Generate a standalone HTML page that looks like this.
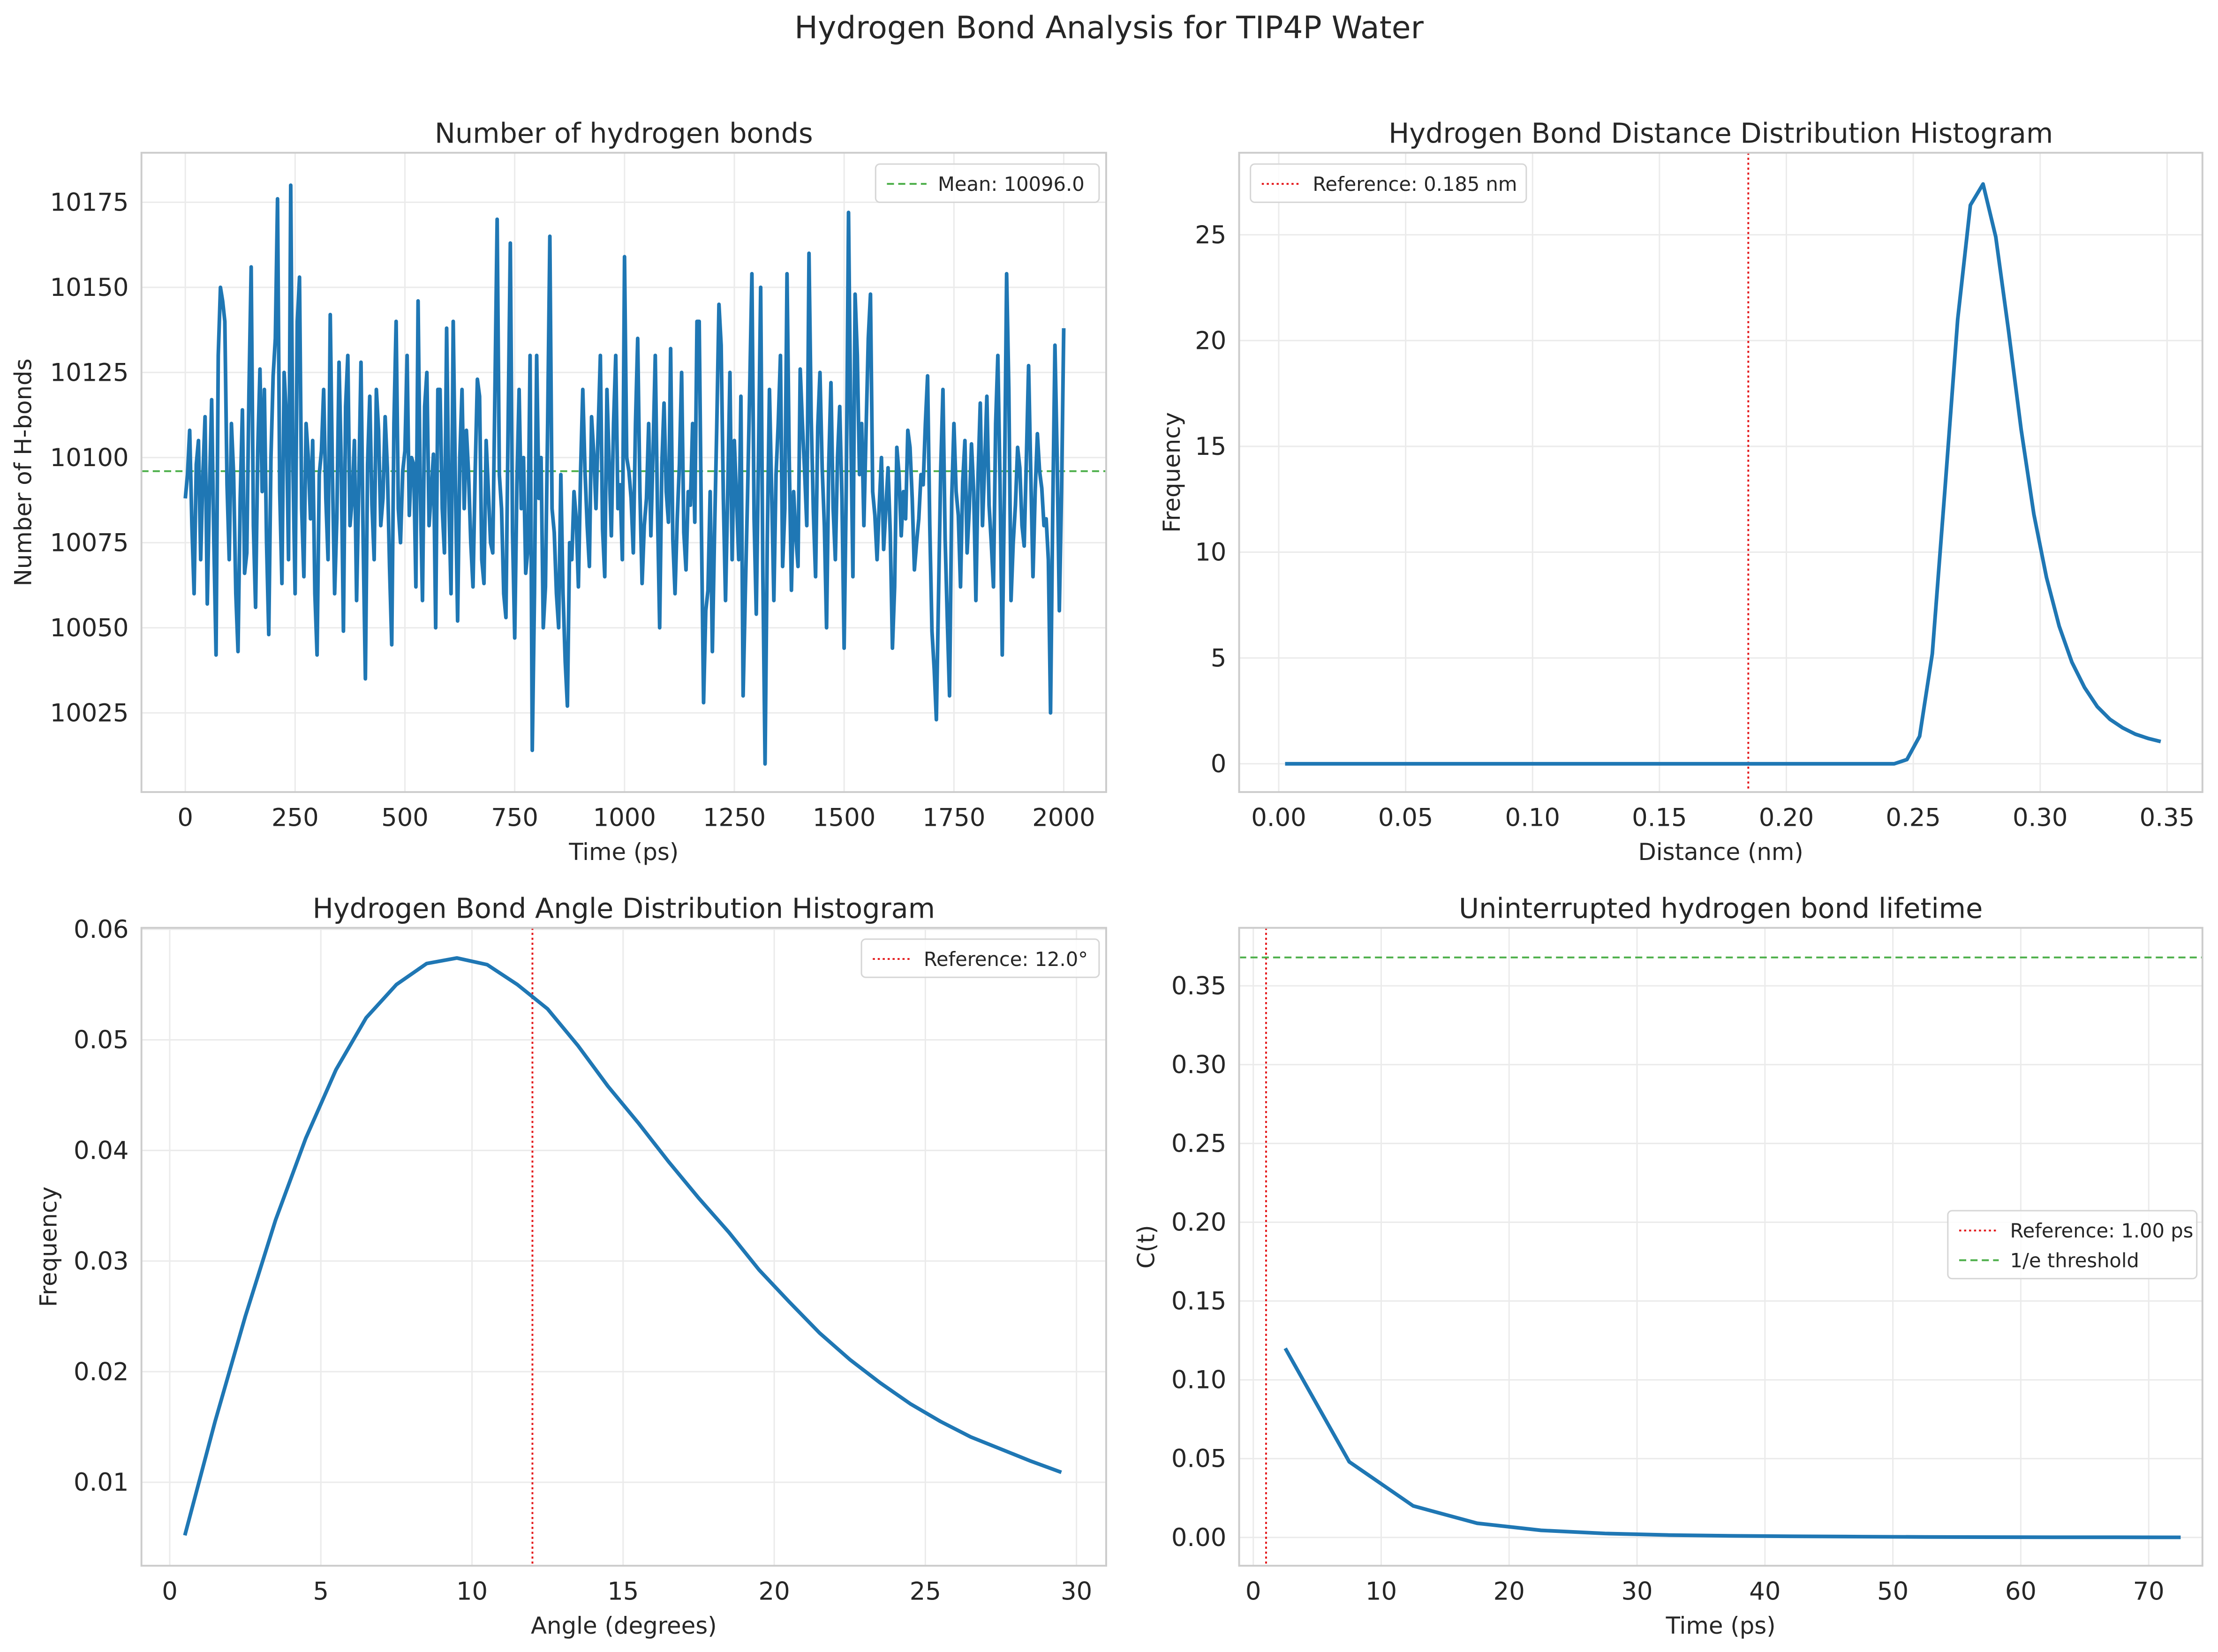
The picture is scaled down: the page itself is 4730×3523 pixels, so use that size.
<!DOCTYPE html>
<html><head><meta charset="utf-8">
<style>
html,body{margin:0;padding:0;background:#fff;}
svg{display:block;}
text{font-family:"DejaVu Sans","Liberation Sans",sans-serif;fill:#262626;}
</style></head>
<body>
<svg id="fig" width="4730" height="3523" viewBox="0 0 1568 1168" preserveAspectRatio="none" xmlns="http://www.w3.org/2000/svg">
<rect width="1568" height="1168" fill="#fff"/>
<text x="784" y="27" font-size="22" text-anchor="middle">Hydrogen Bond Analysis for TIP4P Water</text>
</svg>
<script>
// ---- Panel 1 data (time step 5 ps) ----
const hbCounts = [10088,10095,10108,10080,10060,10098,10105,10070,10095,10112,10057,10090,10117,10075,10042,10130,10150,10146,10140,10092,10070,10110,10095,10060,10043,10088,10114,10066,10072,10120,10156,10080,10056,10102,10126,10090,10120,10075,10048,10100,10124,10135,10176,10090,10063,10125,10112,10070,10180,10098,10060,10140,10153,10085,10065,10110,10100,10082,10105,10060,10042,10095,10102,10120,10088,10070,10142,10095,10060,10082,10128,10098,10049,10115,10130,10080,10088,10105,10058,10092,10128,10075,10035,10098,10118,10086,10070,10120,10108,10080,10088,10112,10097,10068,10045,10110,10140,10085,10075,10096,10102,10130,10083,10100,10098,10062,10146,10090,10058,10115,10125,10080,10090,10101,10050,10120,10120,10085,10072,10138,10088,10060,10140,10092,10052,10100,10120,10085,10108,10095,10075,10062,10096,10123,10118,10070,10063,10105,10090,10075,10072,10120,10170,10095,10085,10060,10053,10110,10163,10078,10047,10092,10120,10085,10100,10066,10073,10130,10014,10060,10130,10088,10100,10050,10062,10110,10165,10085,10078,10060,10050,10095,10060,10040,10027,10075,10070,10090,10082,10062,10096,10120,10096,10080,10068,10112,10101,10085,10108,10130,10079,10065,10120,10098,10077,10110,10130,10085,10092,10070,10159,10100,10096,10088,10072,10110,10135,10090,10063,10080,10088,10110,10077,10102,10130,10085,10050,10098,10116,10090,10081,10132,10076,10060,10082,10098,10125,10078,10067,10090,10086,10110,10081,10140,10140,10080,10028,10055,10061,10090,10043,10078,10109,10145,10133,10088,10058,10090,10125,10070,10105,10088,10070,10118,10030,10060,10088,10120,10154,10082,10054,10100,10150,10065,10010,10075,10120,10090,10058,10095,10110,10130,10068,10085,10154,10100,10061,10090,10077,10068,10126,10110,10096,10080,10160,10112,10084,10065,10109,10125,10097,10080,10050,10098,10122,10085,10070,10100,10115,10088,10044,10092,10172,10110,10065,10148,10130,10095,10110,10080,10108,10135,10148,10090,10083,10070,10086,10100,10073,10085,10097,10078,10044,10062,10103,10095,10077,10090,10082,10108,10103,10088,10067,10075,10082,10095,10092,10110,10124,10080,10049,10038,10023,10060,10097,10120,10076,10052,10030,10088,10110,10090,10083,10062,10093,10105,10072,10085,10104,10090,10058,10095,10116,10080,10098,10118,10086,10075,10062,10110,10130,10092,10042,10090,10154,10120,10058,10075,10086,10103,10097,10080,10074,10100,10127,10095,10065,10090,10107,10096,10091,10080,10082,10070,10025,10085,10133,10100,10055,10090,10138];
const hbMean = 10096.0;
const p1XTicks = [0,250,500,750,1000,1250,1500,1750,2000];
const p1YTicks = [10025,10050,10075,10100,10125,10150,10175];
// ---- Panel 2 data ----
const distCenters = [];
for (let i=0;i<70;i++) distCenters.push(+(0.0025+0.005*i).toFixed(4));
const distFreq = [0,0,0,0,0,0,0,0,0,0,0,0,0,0,0,0,0,0,0,0,0,0,0,0,0,0,0,0,0,0,0,0,0,0,0,0,0,0,0,0,0,0,0,0,0,0,0,0,0,0.2,1.3,5.2,13,21,26.4,27.4,24.9,20.5,15.8,11.8,8.8,6.5,4.8,3.6,2.7,2.1,1.7,1.4,1.2,1.05];
const distRef = 0.185;
const p2XTicks = [0,0.05,0.10,0.15,0.20,0.25,0.30,0.35];
const p2YTicks = [0,5,10,15,20,25];
// ---- Panel 3 data ----
const angleCenters = [0.5,1.5,2.5,3.5,4.5,5.5,6.5,7.5,8.5,9.5,10.5,11.5,12.5,13.5,14.5,15.5,16.5,17.5,18.5,19.5,20.5,21.5,22.5,23.5,24.5,25.5,26.5,27.5,28.5,29.5];
const angleFreq = [0.0052,0.0155,0.0250,0.0337,0.0411,0.0473,0.0520,0.0550,0.0569,0.0574,0.0568,0.0550,0.0528,0.0495,0.0458,0.0425,0.0390,0.0357,0.0326,0.0292,0.0263,0.0235,0.0211,0.0190,0.0171,0.0155,0.0141,0.0130,0.0119,0.0109];
const angleRef = 12.0;
const p3XTicks = [0,5,10,15,20,25,30];
const p3YTicks = [0.01,0.02,0.03,0.04,0.05,0.06];
// ---- Panel 4 data ----
const lifeTimes = [2.5,7.5,12.5,17.5,22.5,27.5,32.5,37.5,42.5,47.5,52.5,57.5,62.5,67.5,72.5];
const lifeCt = [0.12,0.048,0.020,0.009,0.0045,0.0025,0.0015,0.001,0.0007,0.0005,0.0003,0.0002,0.0001,0.0001,0.00005];
const lifeRef = 1.0;
const lifeThresh = 0.368;
const p4XTicks = [0,10,20,30,40,50,60,70];
const p4YTicks = [0,0.05,0.10,0.15,0.20,0.25,0.30,0.35];

const NS="http://www.w3.org/2000/svg";
const fig=document.getElementById('fig');
function mk(tag,attrs,parent){const e=document.createElementNS(NS,tag);for(const k in attrs)e.setAttribute(k,attrs[k]);(parent||fig).appendChild(e);return e;}
function lin(d0,d1,r0,r1){return v=>r0+(v-d0)*(r1-r0)/(d1-d0);}

function panel(o){
  const g=mk('g',{});
  
  
  const {L,R,T,B}=o;
  o.xt.forEach(v=>{const gl=mk('line',{x1:o.x(v),x2:o.x(v),y1:T,y2:B,stroke:'#ebebeb','stroke-width':1},g);
    
    const t=mk('text',{x:o.x(v),y:B+24,'font-size':17.5,'text-anchor':'middle'},g);t.textContent=o.xf(v);
    });
  o.yt.forEach(v=>{const gl=mk('line',{x1:L,x2:R,y1:o.y(v),y2:o.y(v),stroke:'#ebebeb','stroke-width':1},g);
    
    const t=mk('text',{x:L-9,y:o.y(v)+6,'font-size':17.5,'text-anchor':'end'},g);t.textContent=o.yf(v);
    });
  o.extra && o.extra(g);
  const pts=o.xs.map((v,i)=>o.x(v).toFixed(2)+','+o.y(o.ys[i]).toFixed(2)).join(' ');
  const pl=mk('polyline',{points:pts,fill:'none',stroke:'#1f77b4','stroke-width':2.6,'stroke-linejoin':'round'},g);
  
  const fr=mk('rect',{x:L,y:T,width:R-L,height:B-T,fill:'none',stroke:'#cccccc','stroke-width':1.3},g);
  
  const ti=mk('text',{x:(L+R)/2,y:T-7,'font-size':19.5,'text-anchor':'middle'},g);ti.textContent=o.title;
  
  const xl=mk('text',{x:(L+R)/2,y:B+48,'font-size':16.5,'text-anchor':'middle'},g);xl.textContent=o.xlabel;
  
  const yl=mk('text',{x:0,y:0,'font-size':16.5,'text-anchor':'middle',transform:`translate(${o.ylx},${(T+B)/2}) rotate(-90)`},g);yl.textContent=o.ylabel;
  
  const lg=mk('g',{},g);
  
  const h=o.leg.items.length*21+6;
  mk('rect',{x:o.leg.x,y:o.leg.y,width:o.leg.w,height:h,rx:3,fill:'#fff','fill-opacity':0.85,stroke:'#d6d6d6','stroke-width':1},lg);
  o.leg.items.forEach((it,i)=>{const yy=o.leg.y+14+i*21;
    const e=mk('g',{},lg);
    
    mk('line',{x1:o.leg.x+8,x2:o.leg.x+36,y1:yy,y2:yy,stroke:it.c,'stroke-width':1.3,'stroke-dasharray':it.d},e);
    const t=mk('text',{x:o.leg.x+44,y:yy+5,'font-size':13.8},e);t.textContent=it.t;});
}
function hline(g,L,R,y,c,d,name){const l=mk('line',{x1:L,x2:R,y1:y,y2:y,stroke:c,'stroke-width':1.3,'stroke-dasharray':d},g);}
function vline(g,T,B,x,c,d,name){const l=mk('line',{x1:x,x2:x,y1:T,y2:B,stroke:c,'stroke-width':1.3,'stroke-dasharray':d},g);}

(function(){const L=100,R=782,T=108,B=560;
 const x=lin(0,2000,131,752), y=lin(10025,10175,504,143);
 const xs=hbCounts.map((_,i)=>i*2000/(hbCounts.length-1));
 panel({name:'hbond-count-panel',L,R,T,B,x,y,xt:p1XTicks,yt:p1YTicks,xf:v=>String(v),yf:v=>String(v),xs,ys:hbCounts,
  title:'Number of hydrogen bonds',xlabel:'Time (ps)',ylabel:'Number of H-bonds',ylx:22,
  extra:g=>hline(g,L,R,y(hbMean),'#4daf4a','5,3','mean-line'),
  leg:{x:619,y:116,w:158,items:[{c:'#4daf4a',d:'5,3',t:'Mean: '+hbMean.toFixed(1)}]}});})();
(function(){const L=876,R=1557,T=108,B=560;
 const x=lin(0,0.35,904,1532), y=lin(0,25,540,166);
 panel({name:'distance-histogram-panel',L,R,T,B,x,y,xt:p2XTicks,yt:p2YTicks,xf:v=>v.toFixed(2),yf:v=>String(v),xs:distCenters,ys:distFreq,
  title:'Hydrogen Bond Distance Distribution Histogram',xlabel:'Distance (nm)',ylabel:'Frequency',ylx:834,
  extra:g=>vline(g,T,B,x(distRef),'#e41a1c','1.5,2','reference-line'),
  leg:{x:884,y:116,w:195,items:[{c:'#e41a1c',d:'1.5,2',t:'Reference: '+distRef+' nm'}]}});})();
(function(){const L=100,R=782,T=656,B=1107;
 const x=lin(0,30,120,761), y=lin(0.01,0.06,1048,657);
 panel({name:'angle-histogram-panel',L,R,T,B,x,y,xt:p3XTicks,yt:p3YTicks,xf:v=>String(v),yf:v=>v.toFixed(2),xs:angleCenters,ys:angleFreq,
  title:'Hydrogen Bond Angle Distribution Histogram',xlabel:'Angle (degrees)',ylabel:'Frequency',ylx:40,
  extra:g=>vline(g,T,B,x(angleRef),'#e41a1c','1.5,2','reference-line'),
  leg:{x:609,y:664,w:168,items:[{c:'#e41a1c',d:'1.5,2',t:'Reference: '+angleRef.toFixed(1)+'°'}]}});})();
(function(){const L=876,R=1557,T=656,B=1107;
 const x=lin(0,70,886,1519), y=lin(0,0.35,1087,697);
 panel({name:'lifetime-panel',L,R,T,B,x,y,xt:p4XTicks,yt:p4YTicks,xf:v=>String(v),yf:v=>v.toFixed(2),xs:lifeTimes,ys:lifeCt,
  title:'Uninterrupted hydrogen bond lifetime',xlabel:'Time (ps)',ylabel:'C(t)',ylx:816,
  extra:g=>{vline(g,T,B,x(lifeRef),'#e41a1c','1.5,2','reference-line');hline(g,L,R,y(lifeThresh),'#4daf4a','5,3','threshold-line');},
  leg:{x:1377,y:856,w:176,items:[{c:'#e41a1c',d:'1.5,2',t:'Reference: '+lifeRef.toFixed(2)+' ps'},{c:'#4daf4a',d:'5,3',t:'1/e threshold'}]}});})();
</script>
</body></html>
